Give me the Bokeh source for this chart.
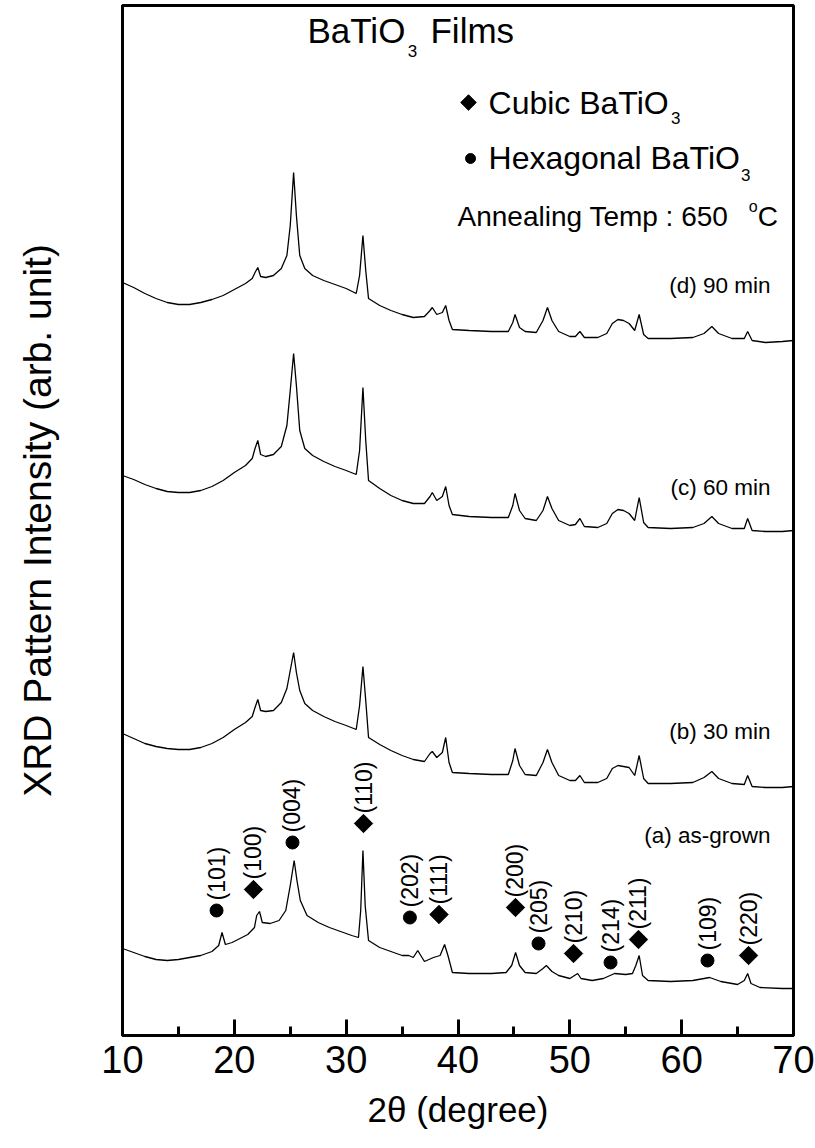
import numpy as np
from bokeh.plotting import figure
from bokeh.models import FixedTicker, Range1d
from bokeh.core.properties import value
from bokeh.embed import file_html
from bokeh.resources import INLINE

FONT = "Liberation Sans"

# ---- data (2-theta in degrees, intensity in arb. units) ----
tt_a = [10.0, 11.0, 12.0, 13.0, 14.0, 15.0, 16.0, 17.0, 18.0, 18.6, 18.9, 19.2, 19.8, 20.5, 21.2, 21.8, 22.0, 22.25,
        22.5, 23.2, 24.0, 24.6, 25.0, 25.35, 25.6, 25.9, 26.5, 27.5, 28.5, 29.5, 30.5, 31.1, 31.3, 31.5, 31.7, 32.0,
        33.0, 34.0, 35.0, 35.6, 36.0, 36.4, 37.0, 37.8, 38.4, 38.8, 39.1, 39.5, 41.0, 43.0, 44.3, 44.8, 45.15, 45.5,
        46.0, 47.0, 47.6, 47.9, 48.4, 49.0, 50.0, 50.7, 51.0, 52.0, 53.0, 54.0, 55.0, 55.6, 55.9, 56.2, 56.5, 57.0,
        59.0, 61.0, 62.5, 63.5, 65.0, 65.6, 65.9, 66.2, 67.0, 69.0, 70.0]
int_a = [87, 83, 79, 76, 75, 76, 78, 80, 84, 90, 103, 91, 93, 97, 101, 108, 120, 124,
         113, 112, 115, 125, 150, 175, 155, 135, 120, 113, 108, 104, 100, 98, 125, 185, 130, 95,
         88, 84, 80, 80, 78, 85, 74, 78, 80, 91, 80, 63, 62, 62, 63, 70, 83, 70,
         63, 62, 67, 70, 64, 60, 57, 62, 57, 55, 57, 62, 61, 62, 70, 80, 60, 55,
         54, 55, 58, 54, 51, 55, 62, 52, 48, 47, 47]

tt_bcd = [10.0, 11.0, 12.0, 13.0, 14.0, 15.0, 16.0, 17.0, 18.0, 19.0, 20.0, 21.0, 21.6, 21.85, 22.1, 22.35, 22.8,
          23.5, 24.2, 24.7, 25.0, 25.3, 25.55, 25.85, 26.3, 27.0, 28.0, 29.0, 30.0, 30.9, 31.2, 31.5, 31.75, 32.0,
          33.0, 34.0, 35.0, 36.0, 37.0, 37.5, 37.7, 38.1, 38.6, 38.9, 39.2, 39.5, 41.0, 43.0, 44.5, 44.9, 45.1, 45.5,
          46.0, 47.0, 47.6, 48.0, 48.4, 49.0, 50.0, 50.5, 50.9, 51.3, 52.5, 53.3, 53.8, 54.3, 54.8, 55.3, 55.8, 56.2,
          56.6, 57.0, 59.0, 61.0, 62.0, 62.7, 63.3, 64.5, 65.6, 65.9, 66.3, 67.5, 69.0, 70.0]
int_b = [302, 297, 292, 289, 287, 286, 286, 288, 292, 298, 306, 313, 319, 328, 336, 325, 324,
         325, 333, 347, 365, 383, 363, 345, 332, 325, 319, 314, 310, 306, 330, 369, 335, 298,
         291, 285, 280, 276, 274, 282, 284, 278, 283, 298, 273, 263, 262, 261, 261, 275, 287, 270,
         261, 260, 273, 286, 273, 260, 255, 255, 260, 253, 253, 257, 267, 270, 269, 268, 260, 280,
         257, 252, 252, 253, 258, 264, 257, 252, 251, 260, 249, 248, 248, 249]
int_c = [560, 556, 551, 547, 544, 543, 543, 545, 549, 555, 563, 570, 577, 587, 595, 581, 579,
         581, 589, 610, 645, 682, 650, 605, 587, 580, 574, 569, 565, 561, 585, 648, 595, 555,
         547, 540, 535, 532, 532, 539, 543, 535, 539, 549, 530, 521, 519, 518, 518, 530, 542, 525,
         517, 515, 525, 539, 527, 515, 510, 511, 517, 509, 508, 512, 522, 526, 525, 522, 515, 538,
         513, 508, 507, 508, 512, 519, 512, 507, 507, 517, 505, 504, 504, 505]
int_d = [753, 748, 742, 737, 733, 731, 731, 733, 736, 740, 746, 752, 757, 763, 768, 759, 758,
         760, 767, 780, 810, 863, 820, 780, 767, 760, 755, 751, 747, 742, 760, 800, 765, 737,
         730, 725, 721, 718, 719, 725, 728, 721, 723, 730, 715, 706, 705, 704, 704, 713, 721, 708,
         704, 703, 715, 728, 715, 704, 699, 699, 704, 698, 698, 702, 712, 716, 715, 712, 705, 721,
         701, 697, 697, 698, 702, 709, 702, 697, 697, 704, 695, 693, 694, 695]

hkl_labels = ["(101)", "(100)", "(004)", "(110)", "(202)", "(111)", "(200)", "(205)", "(210)", "(214)", "(211)", "(109)", "(220)"]
hkl_pos = [18.41, 21.71, 25.2, 31.55, 35.7, 38.3, 45.14, 47.2, 50.33, 53.64, 56.14, 62.31, 65.98]
hkl_height = [125, 146, 193, 212, 118, 121, 128, 92, 82, 73, 96, 75, 80]
hkl_phase = ["hex", "cubic", "hex", "cubic", "hex", "cubic", "cubic", "hex", "cubic", "hex", "cubic", "hex", "cubic"]

trace_labels = ["(a) as-grown", "(b) 30 min", "(c) 60 min", "(d) 90 min"]
trace_label_y = [200, 304, 548, 750]

x_ticks = [10, 20, 30, 40, 50, 60, 70]
x_minor = [15, 25, 35, 45, 55, 65]

p = figure(width=815, height=1148, output_backend="svg", toolbar_location=None,
           x_range=Range1d(10, 70), y_range=Range1d(0, 1030),
           min_border_left=122, min_border_right=22, min_border_top=5, min_border_bottom=113)
p.background_fill_color = "white"
p.border_fill_color = "white"
p.outline_line_color = "black"
p.outline_line_width = 3
p.grid.visible = False

xa = p.xaxis[0]
xa.ticker = FixedTicker(ticks=x_ticks, minor_ticks=x_minor)
xa.major_tick_in = 16
xa.major_tick_out = 0
xa.minor_tick_in = 9
xa.minor_tick_out = 0
xa.major_tick_line_width = 3
xa.minor_tick_line_width = 3
xa.major_tick_line_color = "black"
xa.minor_tick_line_color = "black"
xa.axis_line_width = 3
xa.axis_line_color = "black"
xa.major_label_text_font = FONT
xa.major_label_text_font_size = "38px"
xa.major_label_text_color = "black"
xa.major_label_standoff = 10
xa.axis_label = "2θ (degree)"
xa.axis_label_text_font = FONT
xa.axis_label_text_font_size = "35px"
xa.axis_label_text_font_style = "normal"
xa.axis_label_text_color = "black"
xa.axis_label_standoff = 14

ya = p.yaxis[0]
ya.ticker = FixedTicker(ticks=[])
ya.axis_line_width = 3
ya.axis_line_color = "black"
ya.major_tick_line_color = None
ya.minor_tick_line_color = None
ya.axis_label = "XRD Pattern Intensity (arb. unit)"
ya.axis_label_text_font = FONT
ya.axis_label_text_font_size = "39px"
ya.axis_label_text_font_style = "normal"
ya.axis_label_text_color = "black"
ya.axis_label_standoff = 64

for tt, it in [(tt_a, int_a), (tt_bcd, int_b), (tt_bcd, int_c), (tt_bcd, int_d)]:
    p.line(tt, it, line_color="black", line_width=1.3)

# hkl markers and labels on trace (a)
hx = [x for x, ph in zip(hkl_pos, hkl_phase) if ph == "hex"]
hy = [y for y, ph in zip(hkl_height, hkl_phase) if ph == "hex"]
cx = [x for x, ph in zip(hkl_pos, hkl_phase) if ph == "cubic"]
cy = [y for y, ph in zip(hkl_height, hkl_phase) if ph == "cubic"]
p.scatter(hx, hy, marker="circle", size=13, fill_color="black", line_color="black")
p.scatter(cx, cy, marker="square", angle=np.pi / 4, size=13, fill_color="black", line_color="black")
p.text(hkl_pos, hkl_height, text=hkl_labels, angle=np.pi / 2, y_offset=-10,
       text_align="left", text_baseline="middle", text_font=value(FONT), text_font_size="23px",
       text_color="black")

# trace labels
p.text([67.94] * 4, trace_label_y, text=trace_labels, text_align="right", text_baseline="middle",
       text_font=value(FONT), text_font_size="22.5px", text_color="black")


def txt(x, y, s, size, align="left"):
    p.text([x], [y], text=[s], text_align=align, text_baseline="middle",
           text_font=value(FONT), text_font_size=size, text_color="black")


# title
txt(26.54, 1005, "BaTiO", "35px")
txt(35.5, 985, "3", "17px")
txt(37.54, 1005, "Films", "35px")

# legend
p.scatter([40.94], [933], marker="square", angle=np.pi / 4, size=11, fill_color="black", line_color="black")
txt(42.73, 933, "Cubic BaTiO", "32px")
txt(59.05, 918, "3", "17px")
p.scatter([41.12], [877], marker="circle", size=10, fill_color="black", line_color="black")
txt(42.73, 878, "Hexagonal BaTiO", "32px")
txt(65.3, 861, "3", "17px")
txt(39.96, 819, "Annealing Temp : 650", "28px")
txt(66.0, 829, "o", "16px")
txt(66.8, 819, "C", "28px")

open("out.html", "w").write(file_html(p, INLINE))
